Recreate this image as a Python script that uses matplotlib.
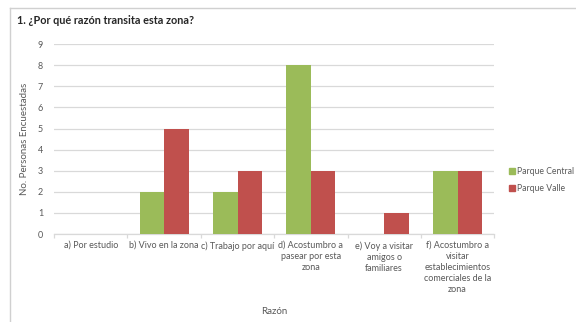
import numpy as np
import matplotlib
matplotlib.use("Agg")
import matplotlib.pyplot as plt
from matplotlib.lines import Line2D

plt.rcParams['font.family'] = ['Lato', 'DejaVu Sans']

title = "1. ¿Por qué razón transita esta zona?"
categorias = ["a) Por estudio", "b) Vivo en la zona", "c) Trabajo por aquí",
              "d) Acostumbro a\npasear por esta\nzona",
              "e) Voy a visitar\namigos o\nfamiliares",
              "f) Acostumbro a\nvisitar\nestablecimientos\ncomerciales de la\nzona"]
central = [0, 2, 2, 8, 0, 3]
valle = [0, 5, 3, 3, 1, 3]
series = ["Parque Central", "Parque Valle"]
colores = ["#9BBB59", "#C0504D"]

gris = "#595959"
grid = "#D9D9D9"

fig = plt.figure(figsize=(5.76, 3.22), dpi=100)
ax = fig.add_axes([0.094, 0.273, 0.764, 0.59])

x = np.arange(len(categorias))
w = 0.335
ax.bar(x - w/2, central, w, color=colores[0], label=series[0], zorder=3)
ax.bar(x + w/2, valle, w, color=colores[1], label=series[1], zorder=3)

ax.set_xlim(-0.5, len(categorias) - 0.5)
ax.set_ylim(0, 9)
ax.set_yticks(range(0, 10))
ax.yaxis.grid(True, color=grid, linewidth=0.9, zorder=0)
ax.tick_params(axis='y', length=0, labelsize=6.5, labelcolor=gris, pad=8)

ax.set_xticks(x)
ax.set_xticklabels(categorias, fontsize=6.5, color=gris, linespacing=1.3)
ax.tick_params(axis='x', length=0, pad=5)
ax.set_xticks(np.arange(-0.5, len(categorias)), minor=True)
ax.tick_params(axis='x', which='minor', length=3, color=grid, width=0.9)

for s in ["top", "right", "left"]:
    ax.spines[s].set_visible(False)
ax.spines["bottom"].set_color(grid)
ax.spines["bottom"].set_linewidth(0.9)

ax.set_ylabel("No. Personas Encuestadas", fontsize=7, color=gris, labelpad=6)
ax.set_xlabel("Razón", fontsize=7, color=gris, labelpad=9)

handles = [Line2D([], [], marker='s', linestyle='none', markersize=4.5,
                  color=c) for c in colores]
fig.legend(handles, series, loc='center left', bbox_to_anchor=(0.882, 0.44),
           frameon=False, fontsize=6.2, labelcolor=gris, handletextpad=0.0,
           handlelength=1.0, labelspacing=0.9, borderaxespad=0, borderpad=0)

fig.text(0.03, 0.935, title, fontsize=7.8, fontweight='bold', color="#262626",
         va='center', ha='left')

# marco del gráfico
fig.add_artist(Line2D([10/576, 1], [1 - 8/322, 1 - 8/322], color="#D0D0D0",
                      linewidth=1, transform=fig.transFigure))
fig.add_artist(Line2D([10/576, 10/576], [0, 1 - 8/322], color="#D0D0D0",
                      linewidth=1, transform=fig.transFigure))

fig.savefig("out.png", dpi=100)
